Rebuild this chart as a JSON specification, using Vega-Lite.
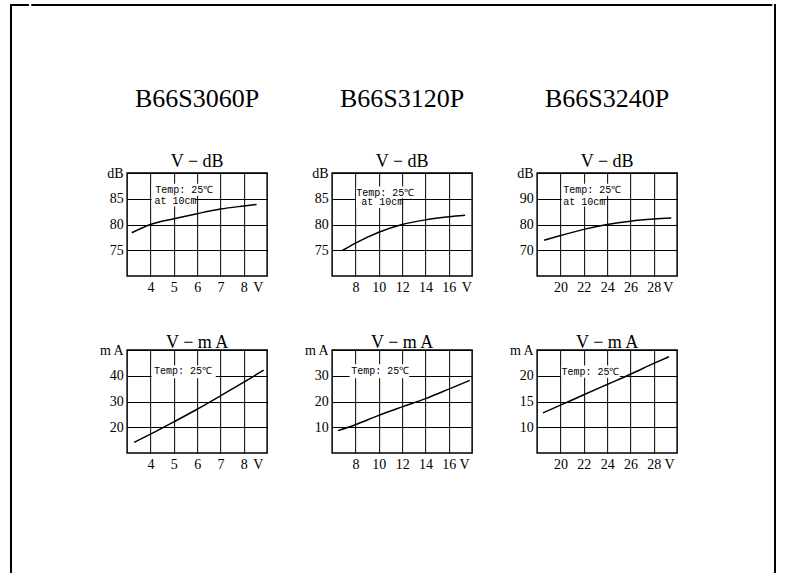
{
  "$schema": "https://vega.github.io/schema/vega-lite/v6.json",
  "background": "white",
  "padding": {"left": 9, "top": 3, "right": 4, "bottom": 0},
  "config": {
    "font": "Liberation Serif",
    "view": {"stroke": "black", "strokeWidth": 1.5},
    "axis": {"domain": false, "ticks": false, "grid": true, "gridColor": "black", "gridWidth": 1, "labelFont": "Liberation Serif", "labelFontSize": 14, "labelColor": "black", "labelFlush": false, "labelOverlap": false, "labelPadding": 4},
    "title": {"font": "Liberation Serif", "fontWeight": "normal", "color": "black", "subtitleFont": "Liberation Serif", "subtitleColor": "black", "anchor": "middle", "frame": "group"}
  },
  "datasets": {
    "blank": [{"blank": ""}],
    "curves": [
      {"model": "B66S3060P", "kind": "dB", "V": 3.2, "val": 78.4},
      {"model": "B66S3060P", "kind": "dB", "V": 4, "val": 80},
      {"model": "B66S3060P", "kind": "dB", "V": 5, "val": 81.1},
      {"model": "B66S3060P", "kind": "dB", "V": 6, "val": 82.1},
      {"model": "B66S3060P", "kind": "dB", "V": 7, "val": 83},
      {"model": "B66S3060P", "kind": "dB", "V": 8, "val": 83.6},
      {"model": "B66S3060P", "kind": "dB", "V": 8.55, "val": 83.9},
      {"model": "B66S3120P", "kind": "dB", "V": 6.9, "val": 75},
      {"model": "B66S3120P", "kind": "dB", "V": 8, "val": 76.4},
      {"model": "B66S3120P", "kind": "dB", "V": 10, "val": 78.5},
      {"model": "B66S3120P", "kind": "dB", "V": 12, "val": 80},
      {"model": "B66S3120P", "kind": "dB", "V": 14, "val": 80.9},
      {"model": "B66S3120P", "kind": "dB", "V": 16, "val": 81.5},
      {"model": "B66S3120P", "kind": "dB", "V": 17.4, "val": 81.8},
      {"model": "B66S3240P", "kind": "dB", "V": 18.6, "val": 73.9},
      {"model": "B66S3240P", "kind": "dB", "V": 20, "val": 75.7},
      {"model": "B66S3240P", "kind": "dB", "V": 22, "val": 78.1},
      {"model": "B66S3240P", "kind": "dB", "V": 24, "val": 80},
      {"model": "B66S3240P", "kind": "dB", "V": 26, "val": 81.3},
      {"model": "B66S3240P", "kind": "dB", "V": 28, "val": 82.1},
      {"model": "B66S3240P", "kind": "dB", "V": 29.5, "val": 82.5},
      {"model": "B66S3060P", "kind": "mA", "V": 3.3, "val": 14.1},
      {"model": "B66S3060P", "kind": "mA", "V": 4, "val": 17.3},
      {"model": "B66S3060P", "kind": "mA", "V": 5, "val": 22.1},
      {"model": "B66S3060P", "kind": "mA", "V": 6, "val": 27},
      {"model": "B66S3060P", "kind": "mA", "V": 7, "val": 32.2},
      {"model": "B66S3060P", "kind": "mA", "V": 8, "val": 37.5},
      {"model": "B66S3060P", "kind": "mA", "V": 8.85, "val": 42.2},
      {"model": "B66S3120P", "kind": "mA", "V": 6.5, "val": 8.7},
      {"model": "B66S3120P", "kind": "mA", "V": 8, "val": 11},
      {"model": "B66S3120P", "kind": "mA", "V": 10, "val": 14.6},
      {"model": "B66S3120P", "kind": "mA", "V": 12, "val": 17.9},
      {"model": "B66S3120P", "kind": "mA", "V": 14, "val": 21.1},
      {"model": "B66S3120P", "kind": "mA", "V": 16, "val": 24.8},
      {"model": "B66S3120P", "kind": "mA", "V": 17.8, "val": 28.2},
      {"model": "B66S3240P", "kind": "mA", "V": 18.5, "val": 12.8},
      {"model": "B66S3240P", "kind": "mA", "V": 20, "val": 14.3},
      {"model": "B66S3240P", "kind": "mA", "V": 22, "val": 16.3},
      {"model": "B66S3240P", "kind": "mA", "V": 24, "val": 18.3},
      {"model": "B66S3240P", "kind": "mA", "V": 26, "val": 20.3},
      {"model": "B66S3240P", "kind": "mA", "V": 28, "val": 22.4},
      {"model": "B66S3240P", "kind": "mA", "V": 29.3, "val": 23.7}
    ],
    "notes": [
      {"model": "B66S3060P", "kind": "dB", "V": 4.2, "val": 86.7, "note": "Temp: 25℃"},
      {"model": "B66S3060P", "kind": "dB", "V": 4.17, "val": 84.56, "note": "at 10cm"},
      {"model": "B66S3120P", "kind": "dB", "V": 8.07, "val": 86.2, "note": "Temp: 25℃"},
      {"model": "B66S3120P", "kind": "dB", "V": 8.5, "val": 84.4, "note": "at 10cm"},
      {"model": "B66S3240P", "kind": "dB", "V": 20.24, "val": 93.5, "note": "Temp: 25℃"},
      {"model": "B66S3240P", "kind": "dB", "V": 20.24, "val": 88.6, "note": "at 10cm"},
      {"model": "B66S3060P", "kind": "mA", "V": 4.15, "val": 41.7, "note": "Temp: 25℃"},
      {"model": "B66S3120P", "kind": "mA", "V": 7.64, "val": 32, "note": "Temp: 25℃"},
      {"model": "B66S3240P", "kind": "mA", "V": 20.08, "val": 20.7, "note": "Temp: 25℃"}
    ],
    "masks": [
      {"model": "B66S3060P", "kind": "dB", "V": 4.05, "V2": 6.75, "val": 85.6, "val2": 87.9},
      {"model": "B66S3060P", "kind": "dB", "V": 4.05, "V2": 5.9, "val": 83.5, "val2": 85.6},
      {"model": "B66S3120P", "kind": "dB", "V": 8.05, "V2": 13.2, "val": 85.1, "val2": 87.4},
      {"model": "B66S3120P", "kind": "dB", "V": 8.05, "V2": 11.8, "val": 83.2, "val2": 85.1},
      {"model": "B66S3240P", "kind": "dB", "V": 20.1, "V2": 25.2, "val": 91.2, "val2": 95.8},
      {"model": "B66S3240P", "kind": "dB", "V": 20.1, "V2": 23.5, "val": 87, "val2": 91.2},
      {"model": "B66S3060P", "kind": "mA", "V": 4.05, "V2": 6.8, "val": 39, "val2": 44},
      {"model": "B66S3120P", "kind": "mA", "V": 7.5, "V2": 12.6, "val": 29, "val2": 34.5},
      {"model": "B66S3240P", "kind": "mA", "V": 20.05, "V2": 25.1, "val": 19.6, "val2": 22}
    ]
  },
  "spacing": 0,
  "hconcat": [
    {
      "width": 17,
      "height": 567,
      "view": {"stroke": "black", "strokeWidth": 2, "strokeCap": "square", "strokeDash": [17, 584, 567, 0]},
      "data": {"name": "blank"},
      "mark": {"type": "text", "fontSize": 0},
      "encoding": {"text": {"field": "blank"}}
    },
    {
      "spacing": 77,
      "center": true,
      "vconcat": [
        {
          "width": 739,
          "height": 1,
          "view": {"stroke": "black", "strokeWidth": 2, "strokeCap": "square", "strokeDash": [739, 3000]},
          "data": {"name": "blank"},
          "mark": {"type": "text", "fontSize": 0},
          "encoding": {"text": {"field": "blank"}}
        },
        {
          "columns": 3,
          "bounds": "flush",
          "spacing": {"row": 74, "column": 65},
          "concat": [
            {
              "width": 140, "height": 103,
              "title": {"text": "B66S3060P", "fontSize": 26, "subtitle": "V − dB", "subtitleFontSize": 18, "subtitlePadding": 41, "offset": -5},
              "encoding": {
                "x": {"field": "V", "type": "quantitative", "scale": {"domain": [3, 9], "nice": false, "zero": false},
                      "axis": {"title": null, "values": [4, 5, 6, 7, 8, 8.6], "labelExpr": "datum.value == 8.6 ? 'V' : datum.label", "gridOpacity": {"condition": {"test": "datum.value == 8.6", "value": 0}, "value": 1}}},
                "y": {"field": "val", "type": "quantitative", "scale": {"domain": [70, 90], "nice": false, "zero": false},
                      "axis": {"title": null, "values": [75, 80, 85, 90], "labelExpr": "datum.value == 90 ? 'dB' : datum.label"}}
              },
              "layer": [
                {"data": {"name": "masks"}, "transform": [{"filter": "datum.model == 'B66S3060P' && datum.kind == 'dB'"}],
                 "mark": {"type": "rect", "color": "white"}, "encoding": {"x2": {"field": "V2"}, "y2": {"field": "val2"}}},
                {"data": {"name": "curves"}, "transform": [{"filter": "datum.model == 'B66S3060P' && datum.kind == 'dB'"}],
                 "mark": {"type": "line", "color": "black", "strokeWidth": 1.5, "interpolate": "monotone"}},
                {"data": {"name": "notes"}, "transform": [{"filter": "datum.model == 'B66S3060P' && datum.kind == 'dB'"}],
                 "mark": {"type": "text", "align": "left", "baseline": "middle", "font": "Liberation Mono", "fontSize": 10, "color": "black"},
                 "encoding": {"text": {"field": "note"}}}
              ]
            },
            {
              "width": 140, "height": 103,
              "title": {"text": "B66S3120P", "fontSize": 26, "subtitle": "V − dB", "subtitleFontSize": 18, "subtitlePadding": 41, "offset": -5},
              "encoding": {
                "x": {"field": "V", "type": "quantitative", "scale": {"domain": [6, 18], "nice": false, "zero": false},
                      "axis": {"title": null, "values": [8, 10, 12, 14, 16, 17.5], "labelExpr": "datum.value == 17.5 ? 'V' : datum.label", "gridOpacity": {"condition": {"test": "datum.value == 17.5", "value": 0}, "value": 1}}},
                "y": {"field": "val", "type": "quantitative", "scale": {"domain": [70, 90], "nice": false, "zero": false},
                      "axis": {"title": null, "values": [75, 80, 85, 90], "labelExpr": "datum.value == 90 ? 'dB' : datum.label"}}
              },
              "layer": [
                {"data": {"name": "masks"}, "transform": [{"filter": "datum.model == 'B66S3120P' && datum.kind == 'dB'"}],
                 "mark": {"type": "rect", "color": "white"}, "encoding": {"x2": {"field": "V2"}, "y2": {"field": "val2"}}},
                {"data": {"name": "curves"}, "transform": [{"filter": "datum.model == 'B66S3120P' && datum.kind == 'dB'"}],
                 "mark": {"type": "line", "color": "black", "strokeWidth": 1.5, "interpolate": "monotone"}},
                {"data": {"name": "notes"}, "transform": [{"filter": "datum.model == 'B66S3120P' && datum.kind == 'dB'"}],
                 "mark": {"type": "text", "align": "left", "baseline": "middle", "font": "Liberation Mono", "fontSize": 10, "color": "black"},
                 "encoding": {"text": {"field": "note"}}}
              ]
            },
            {
              "width": 140, "height": 103,
              "title": {"text": "B66S3240P", "fontSize": 26, "subtitle": "V − dB", "subtitleFontSize": 18, "subtitlePadding": 41, "offset": -5},
              "encoding": {
                "x": {"field": "V", "type": "quantitative", "scale": {"domain": [18, 30], "nice": false, "zero": false},
                      "axis": {"title": null, "values": [20, 22, 24, 26, 28, 29.2], "labelExpr": "datum.value == 29.2 ? 'V' : datum.label", "gridOpacity": {"condition": {"test": "datum.value == 29.2", "value": 0}, "value": 1}}},
                "y": {"field": "val", "type": "quantitative", "scale": {"domain": [60, 100], "nice": false, "zero": false},
                      "axis": {"title": null, "values": [70, 80, 90, 100], "labelExpr": "datum.value == 100 ? 'dB' : datum.label"}}
              },
              "layer": [
                {"data": {"name": "masks"}, "transform": [{"filter": "datum.model == 'B66S3240P' && datum.kind == 'dB'"}],
                 "mark": {"type": "rect", "color": "white"}, "encoding": {"x2": {"field": "V2"}, "y2": {"field": "val2"}}},
                {"data": {"name": "curves"}, "transform": [{"filter": "datum.model == 'B66S3240P' && datum.kind == 'dB'"}],
                 "mark": {"type": "line", "color": "black", "strokeWidth": 1.5, "interpolate": "monotone"}},
                {"data": {"name": "notes"}, "transform": [{"filter": "datum.model == 'B66S3240P' && datum.kind == 'dB'"}],
                 "mark": {"type": "text", "align": "left", "baseline": "middle", "font": "Liberation Mono", "fontSize": 10, "color": "black"},
                 "encoding": {"text": {"field": "note"}}}
              ]
            },
            {
              "width": 140, "height": 103,
              "title": {"text": "V − m A", "fontSize": 18, "offset": -9},
              "encoding": {
                "x": {"field": "V", "type": "quantitative", "scale": {"domain": [3, 9], "nice": false, "zero": false},
                      "axis": {"title": null, "values": [4, 5, 6, 7, 8, 8.6], "labelExpr": "datum.value == 8.6 ? 'V' : datum.label", "gridOpacity": {"condition": {"test": "datum.value == 8.6", "value": 0}, "value": 1}}},
                "y": {"field": "val", "type": "quantitative", "scale": {"domain": [10, 50], "nice": false, "zero": false},
                      "axis": {"title": null, "values": [20, 30, 40, 50], "labelExpr": "datum.value == 50 ? 'm A' : datum.label"}}
              },
              "layer": [
                {"data": {"name": "masks"}, "transform": [{"filter": "datum.model == 'B66S3060P' && datum.kind == 'mA'"}],
                 "mark": {"type": "rect", "color": "white"}, "encoding": {"x2": {"field": "V2"}, "y2": {"field": "val2"}}},
                {"data": {"name": "curves"}, "transform": [{"filter": "datum.model == 'B66S3060P' && datum.kind == 'mA'"}],
                 "mark": {"type": "line", "color": "black", "strokeWidth": 1.5, "interpolate": "monotone"}},
                {"data": {"name": "notes"}, "transform": [{"filter": "datum.model == 'B66S3060P' && datum.kind == 'mA'"}],
                 "mark": {"type": "text", "align": "left", "baseline": "middle", "font": "Liberation Mono", "fontSize": 10, "color": "black"},
                 "encoding": {"text": {"field": "note"}}}
              ]
            },
            {
              "width": 140, "height": 103,
              "title": {"text": "V − m A", "fontSize": 18, "offset": -9},
              "encoding": {
                "x": {"field": "V", "type": "quantitative", "scale": {"domain": [6, 18], "nice": false, "zero": false},
                      "axis": {"title": null, "values": [8, 10, 12, 14, 16, 17.3], "labelExpr": "datum.value == 17.3 ? 'V' : datum.label", "gridOpacity": {"condition": {"test": "datum.value == 17.3", "value": 0}, "value": 1}}},
                "y": {"field": "val", "type": "quantitative", "scale": {"domain": [0, 40], "nice": false, "zero": false},
                      "axis": {"title": null, "values": [10, 20, 30, 40], "labelExpr": "datum.value == 40 ? 'm A' : datum.label"}}
              },
              "layer": [
                {"data": {"name": "masks"}, "transform": [{"filter": "datum.model == 'B66S3120P' && datum.kind == 'mA'"}],
                 "mark": {"type": "rect", "color": "white"}, "encoding": {"x2": {"field": "V2"}, "y2": {"field": "val2"}}},
                {"data": {"name": "curves"}, "transform": [{"filter": "datum.model == 'B66S3120P' && datum.kind == 'mA'"}],
                 "mark": {"type": "line", "color": "black", "strokeWidth": 1.5, "interpolate": "monotone"}},
                {"data": {"name": "notes"}, "transform": [{"filter": "datum.model == 'B66S3120P' && datum.kind == 'mA'"}],
                 "mark": {"type": "text", "align": "left", "baseline": "middle", "font": "Liberation Mono", "fontSize": 10, "color": "black"},
                 "encoding": {"text": {"field": "note"}}}
              ]
            },
            {
              "width": 140, "height": 103,
              "title": {"text": "V − m A", "fontSize": 18, "offset": -9},
              "encoding": {
                "x": {"field": "V", "type": "quantitative", "scale": {"domain": [18, 30], "nice": false, "zero": false},
                      "axis": {"title": null, "values": [20, 22, 24, 26, 28, 29.3], "labelExpr": "datum.value == 29.3 ? 'V' : datum.label", "gridOpacity": {"condition": {"test": "datum.value == 29.3", "value": 0}, "value": 1}}},
                "y": {"field": "val", "type": "quantitative", "scale": {"domain": [5, 25], "nice": false, "zero": false},
                      "axis": {"title": null, "values": [10, 15, 20, 25], "labelExpr": "datum.value == 25 ? 'm A' : datum.label"}}
              },
              "layer": [
                {"data": {"name": "masks"}, "transform": [{"filter": "datum.model == 'B66S3240P' && datum.kind == 'mA'"}],
                 "mark": {"type": "rect", "color": "white"}, "encoding": {"x2": {"field": "V2"}, "y2": {"field": "val2"}}},
                {"data": {"name": "curves"}, "transform": [{"filter": "datum.model == 'B66S3240P' && datum.kind == 'mA'"}],
                 "mark": {"type": "line", "color": "black", "strokeWidth": 1.5, "interpolate": "monotone"}},
                {"data": {"name": "notes"}, "transform": [{"filter": "datum.model == 'B66S3240P' && datum.kind == 'mA'"}],
                 "mark": {"type": "text", "align": "left", "baseline": "middle", "font": "Liberation Mono", "fontSize": 10, "color": "black"},
                 "encoding": {"text": {"field": "note"}}}
              ]
            }
          ]
        }
      ]
    },
    {
      "width": 1,
      "height": 567,
      "view": {"stroke": "black", "strokeWidth": 2, "strokeCap": "square", "strokeDash": [0, 569, 567, 0]},
      "data": {"name": "blank"},
      "mark": {"type": "text", "fontSize": 0},
      "encoding": {"text": {"field": "blank"}}
    }
  ]
}
